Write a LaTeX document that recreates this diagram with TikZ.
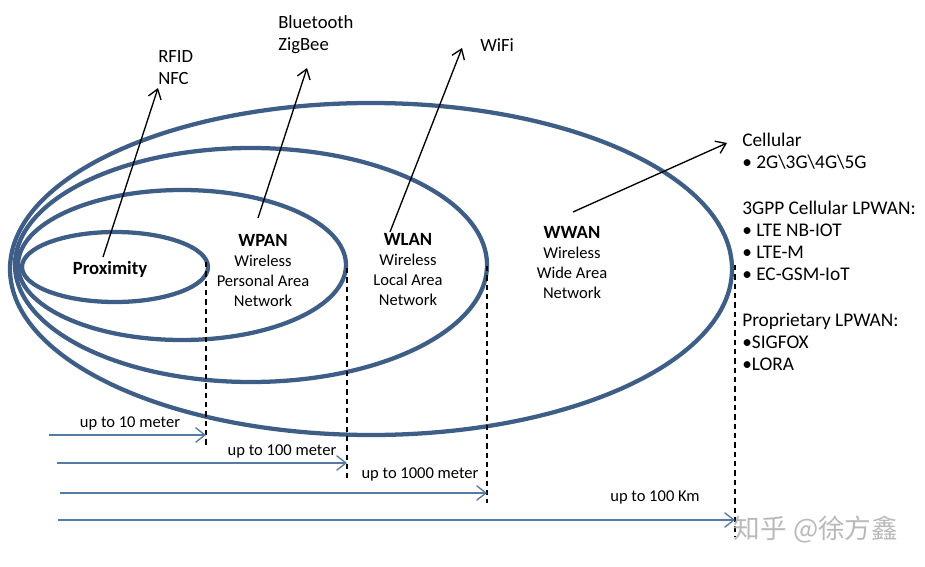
\documentclass[tikz,border=0pt]{standalone}
\usepackage{fontspec}
\setmainfont{Carlito}
\newfontfamily\cjkfont{Noto Sans CJK SC}
\usepackage{tikz}
\usetikzlibrary{arrows.meta, positioning}

\definecolor{ringblue}{RGB}{62,94,136}
\definecolor{rangeblue}{RGB}{84,122,166}

\begin{document}
\begin{tikzpicture}[
  x=0.75pt, y=-0.75pt,
  txt/.style={font=\fontsize{12.4}{15}\selectfont, align=center, inner sep=0pt},
  tech/.style={font=\fontsize{14}{16.5}\selectfont, align=left, inner sep=0pt, anchor=west},
  lst/.style={font=\fontsize{14.5}{16.5}\selectfont, align=left, inner sep=0pt, anchor=west},
  ring/.style={draw=ringblue, line width=3.2pt},
  arr/.style={-{Straight Barb[length=7pt, width=10pt]}, line width=1pt, black},
  rng/.style={-{Straight Barb[length=7pt, width=11pt]}, line width=1pt, rangeblue},
  lim/.style={line width=1pt, dash pattern=on 4pt off 3pt}
]
\useasboundingbox (0,0) rectangle (925,567);

% Coverage rings
\draw[ring] (371,269) ellipse [x radius=361, y radius=166];
\draw[ring] (251,265) ellipse [x radius=236, y radius=117];
\draw[ring] (182,265) ellipse [x radius=164, y radius=75];
\draw[ring] (115,267) ellipse [x radius=93, y radius=35];

% Ring labels
\node[txt, font=\fontsize{14}{15}\selectfont\bfseries] (prox) at (110,269) {Proximity};
\node[txt] (wpan) at (263,271) {{\fontsize{14}{15}\selectfont\bfseries WPAN}\\Wireless\\Personal Area\\Network};
\node[txt] (wlan) at (408,270) {{\fontsize{14}{15}\selectfont\bfseries WLAN}\\Wireless\\Local Area\\Network};
\node[txt] (wwan) at (572,263) {{\fontsize{14}{15}\selectfont\bfseries WWAN}\\Wireless\\Wide Area\\Network};

% Technologies
\node[tech] (rfid) at (158,68) {RFID\\NFC};
\node[tech] (bt)   at (278,35) {Bluetooth\\ZigBee};
\node[tech] (wifi) at (480,45) {WiFi};
\node[lst] (cell) at (742,151) {Cellular\\\textbullet\ 2G\textbackslash 3G\textbackslash 4G\textbackslash 5G};
\node[lst] (gpp)  at (742,241) {3GPP Cellular LPWAN:\\\textbullet\ LTE NB-IOT\\\textbullet\ LTE-M\\\textbullet\ EC-GSM-IoT};
\node[lst] (prop) at (742,342) {Proprietary LPWAN:\\\textbullet SIGFOX\\\textbullet LORA};

% Arrow feet
\coordinate (proxft) at (103,257);
\coordinate (wpanft) at (258,218);
\coordinate (wlanft) at (390,232);
\coordinate (wwanft) at (573,212);

\draw[arr] (proxft) -- (158,88);
\draw[arr] (wpanft) -- (307,68);
\draw[arr] (wlanft) -- (462,48);
\draw[arr] (wwanft) -- (727,143);

% Range limits
\coordinate (lim1t) at (206,262); \coordinate (lim1b) at (206,447);
\coordinate (lim2t) at (347,268); \coordinate (lim2b) at (347,478);
\coordinate (lim3t) at (487,266); \coordinate (lim3b) at (487,503);
\coordinate (lim4t) at (735,265); \coordinate (lim4b) at (735,537);
\draw[lim] (lim1t) -- (lim1b);
\draw[lim] (lim2t) -- (lim2b);
\draw[lim] (lim3t) -- (lim3b);
\draw[lim] (lim4t) -- (lim4b);

% Range arrows
\coordinate (r1s) at (49,435);  \coordinate (r1e) at (206,435);
\coordinate (r2s) at (57,463);  \coordinate (r2e) at (347,463);
\coordinate (r3s) at (60,493);  \coordinate (r3e) at (487,493);
\coordinate (r4s) at (58,520);  \coordinate (r4e) at (735,520);
\draw[rng] (r1s) -- (r1e);
\draw[rng] (r2s) -- (r2e);
\draw[rng] (r3s) -- (r3e);
\draw[rng] (r4s) -- (r4e);
\node[txt] (d10)   at (130,423) {up to 10 meter};
\node[txt] (d100)  at (282,451) {up to 100 meter};
\node[txt] (d1000) at (420,474) {up to 1000 meter};
\node[txt] (d100k) at (655,497) {up to 100 Km};

% Watermark
\node[font=\cjkfont\fontsize{20}{24}\selectfont, text=gray!55, inner sep=0pt] (mark) at (816,529) {知乎 @徐方鑫};
\end{tikzpicture}
\end{document}
